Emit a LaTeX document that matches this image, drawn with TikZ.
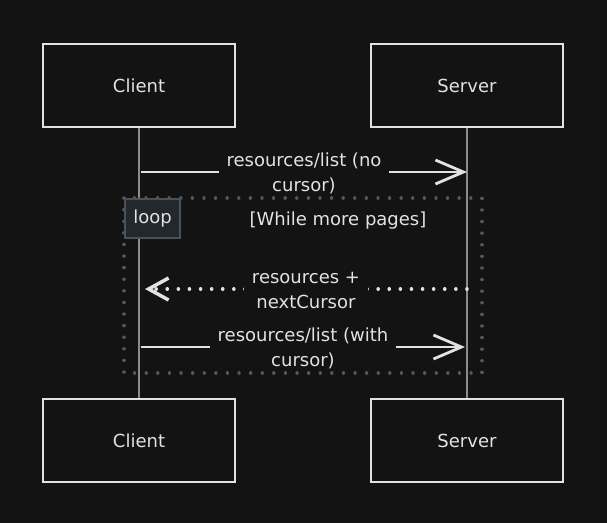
\documentclass[tikz,border=0pt]{standalone}
\usepackage{fontspec}
\setmainfont{DejaVu Sans}
\usetikzlibrary{arrows.meta,positioning}
\definecolor{bg}{HTML}{131313}
\definecolor{ink}{HTML}{E2E2E2}
\definecolor{loopfill}{HTML}{23282D}
\definecolor{loopline}{HTML}{4B5158}
\definecolor{frame}{HTML}{50575F}
\definecolor{life}{HTML}{8C8C8C}
\tikzset{
  actor/.style={draw=ink, line width=2pt, fill=bg, minimum width=192pt, minimum height=83pt,
    text=ink, font=\fontsize{18}{23}\selectfont},
  lifeline/.style={life, line width=1.2pt},
  msg/.style={ink, line width=2.8pt, -{Straight Barb[length=28pt,width=24pt]}},
  reply/.style={ink, line width=3.5pt, line cap=round, dash pattern=on 0.1pt off 11pt,
    -{Straight Barb[length=20pt,width=22pt]}},
  msglabel/.style={fill=bg, text=ink, align=center, inner xsep=8pt, inner ysep=2pt,
    yshift=-1pt, font=\fontsize{18}{25}\selectfont},
  loopframe/.style={frame, line width=3.3pt, line cap=round, dash pattern=on 0.1pt off 11.5pt},
  looptag/.style={draw=loopline, line width=2pt, fill=loopfill, text=ink, anchor=north west,
    minimum width=55pt, minimum height=39pt, inner sep=0pt, font=\fontsize{18}{23}\selectfont},
}
\begin{document}
\begin{tikzpicture}[x=1pt, y=-1pt]
\fill[bg] (0,0) rectangle (607,523);
\path[use as bounding box] (0,0) rectangle (607,523);
% participants
\node[actor] (client) at (139,85.5) {Client};
\node[actor] (server) at (467,85.5) {Server};
\node[actor] (clientB) at (139,440.5) {Client};
\node[actor] (serverB) at (467,440.5) {Server};
\draw[lifeline] (client) -- (clientB);
\draw[lifeline] (server) -- (serverB);
% loop frame
\draw[loopframe] (124,198) rectangle (482,373);
\node[looptag] (loop) at (124,198) {loop};
\node[text=ink, font=\fontsize{18}{23}\selectfont] (guard) at (338,221) {[While more pages]};
% messages
\coordinate (first) at (141,172);
\coordinate (firstEnd) at (467,172);
\coordinate (back) at (467,289);
\coordinate (backEnd) at (145,289);
\coordinate (next) at (141,347);
\coordinate (nextEnd) at (465,347);
\draw[msg] (first) -- (firstEnd) node[msglabel, midway] {resources/list (no\\cursor)};
\draw[reply] (back) -- (backEnd) node[msglabel, midway] {resources +\\nextCursor};
\draw[msg] (next) -- (nextEnd) node[msglabel, midway] {resources/list (with\\cursor)};
\end{tikzpicture}
\end{document}
